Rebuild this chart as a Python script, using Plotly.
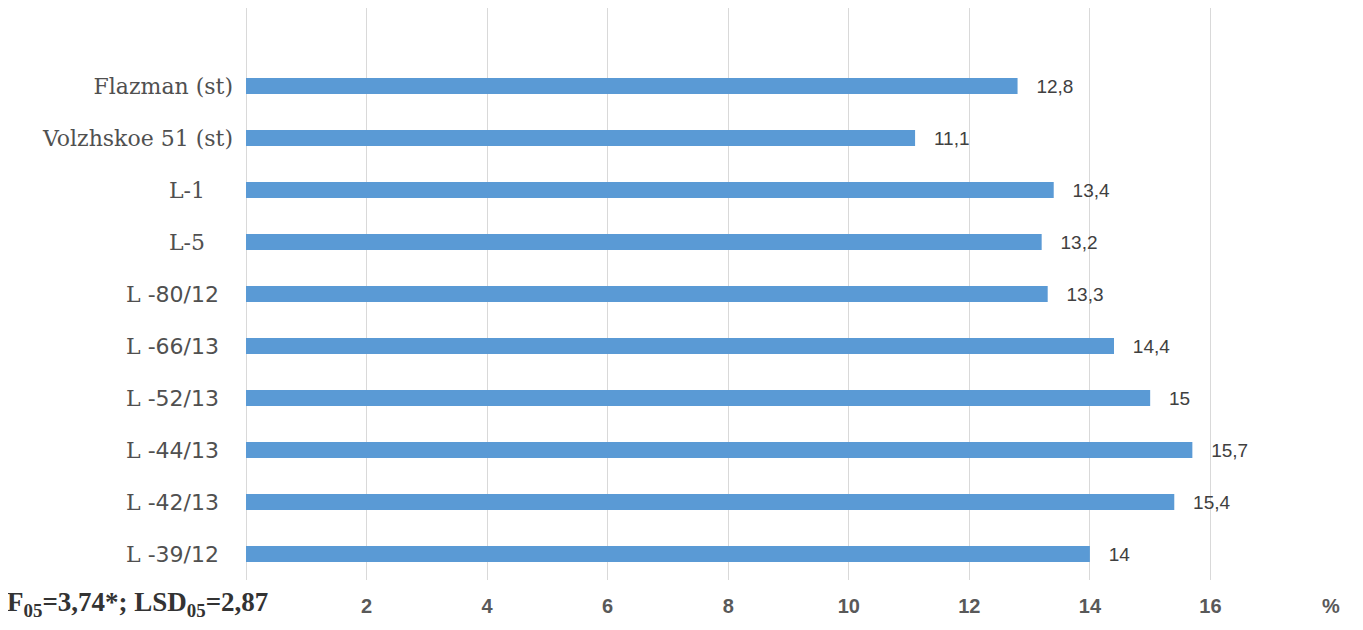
import plotly.graph_objects as go

# === Data (bottom to top as drawn) ===
varieties = ["L -39/12", "L -42/13", "L -44/13", "L -52/13", "L -66/13",
             "L -80/12", "L-5", "L-1", "Volzhskoe 51 (st)", "Flazman (st)"]
values = [14, 15.4, 15.7, 15, 14.4, 13.3, 13.2, 13.4, 11.1, 12.8]

tick_vals = [2, 4, 6, 8, 10, 12, 14, 16, 18]
tick_text = ["2", "4", "6", "8", "10", "12", "14", "16", "%"]

stats_note = "<b>F<sub>05</sub>=3,74*; LSD<sub>05</sub>=2,87</b>"


def label_html(name):
    # line numbers in the source mix a serif "L" with sans digits
    nb = "\u00a0"
    if name.startswith("L -"):
        return ("L\u00a0<span style='font-family:DejaVu Sans;font-size:22px'>"
                + name[2:] + "</span>" + nb * 2)
    if name.startswith("L-"):
        return name + nb * 4
    return name


# === Bars ===
bar_trace = go.Bar(
    x=values,
    y=list(range(len(varieties))),
    orientation="h",
    width=0.31,
    marker=dict(color="#5a9ad5", line=dict(width=0)),
    texttemplate="   %{x}",
    textposition="outside",
    constraintext="none",
    textfont=dict(family="Liberation Sans", size=19, color="#404040"),
    cliponaxis=False,
)

fig = go.Figure(data=[bar_trace])

# === Layout (page has an 8px body margin, so offsets are compensated) ===
fig.update_layout(
    width=1363,
    height=630,
    plot_bgcolor="white",
    paper_bgcolor="white",
    separators=",.",
    showlegend=False,
    margin=dict(l=238, r=40, t=0, b=58),
    xaxis=dict(
        range=[0, 18],
        tickvals=tick_vals,
        ticktext=tick_text,
        showgrid=True,
        gridcolor="#d9d9d9",
        gridwidth=1,
        zeroline=True,
        zerolinecolor="#d9d9d9",
        zerolinewidth=1,
        showline=False,
        ticks="",
        ticklabelstandoff=12,
        tickfont=dict(family="Liberation Sans", size=20, color="#595959", weight="bold"),
    ),
    yaxis=dict(
        range=[-0.5, 10.5],
        tickvals=list(range(len(varieties))),
        ticktext=[label_html(v) for v in varieties],
        showgrid=False,
        zeroline=False,
        ticks="",
        ticklabelstandoff=12,
        tickfont=dict(family="DejaVu Serif", size=22, color="#505050"),
    ),
    annotations=[
        dict(
            text=stats_note,
            showarrow=False,
            xref="paper",
            yref="paper",
            x=-0.2223,
            y=-0.042,
            xanchor="left",
            yanchor="middle",
            font=dict(family="Liberation Serif", size=27, color="#333333"),
        )
    ],
)

fig.write_html("out.html")
